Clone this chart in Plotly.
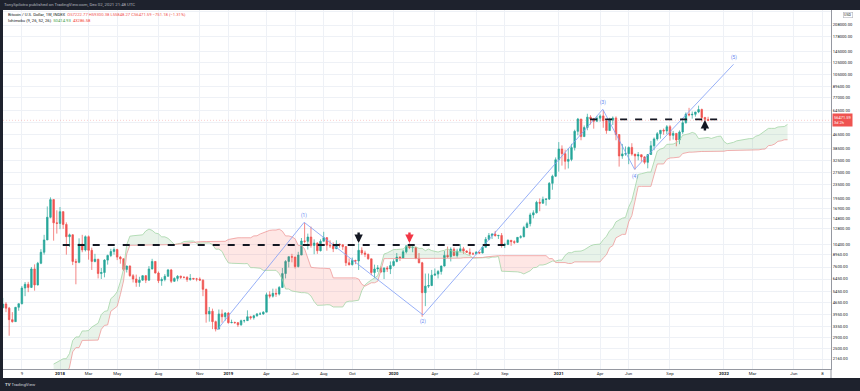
import numpy as np
import pandas as pd
import plotly.graph_objects as go

# ---------------- weekly OHLC (week start Mondays) ----------------
start_2016 = "2016-07-04"
open_2016 = [703,650,665,660,624,590,570,581,570,608,607,609,602,612,617,640,655,700,705,705,730,735,765,770,790,895]
high_2016 = [705,680,680,665,630,600,585,585,612,630,612,610,615,620,645,660,720,740,730,755,750,775,775,795,930,1000]
low_2016 = [605,645,645,620,480,565,565,565,565,600,600,590,600,608,615,625,650,685,700,700,725,730,755,765,785,880]
close_2016 = [650,665,660,624,590,570,581,570,608,607,609,602,612,617,640,655,700,705,705,730,735,765,770,790,895,998]

start_2017 = "2017-01-02"
open_2017 = [998,905,820,925,920,1015,1000,1050,1170,1270,1230,970,965,1090,1190,1180,1230,1350,1560,1780,2050,2200,
             2540,2950,2510,2560,2500,2510,1920,2750,2750,3230,4150,4100,4350,4580,4330,3700,3600,4380,4600,5700,
             6000,5750,7400,5950,8000,9300,11000,15000,19100,13900]
high_2017 = [1150,915,930,930,1040,1060,1060,1200,1280,1330,1250,1060,1100,1210,1215,1245,1350,1600,1800,2100,2760,2580,
             2980,2960,2770,2600,2650,2540,2900,2850,3300,4200,4480,4400,4980,4700,4400,4100,4400,4620,5860,6190,
             6200,7600,7880,8150,9700,11800,17400,19700,19200,16500]
low_2017 = [810,750,815,880,910,940,990,1040,1160,1100,950,890,960,1080,1165,1180,1225,1350,1550,1710,2050,2060,
            2490,2100,2450,2400,2470,1830,1900,2450,2660,3210,3950,3990,4320,4100,2970,3550,3600,4180,4560,5100,
            5390,5700,5500,5900,7900,9000,11000,14800,10900,12000]
close_2017 = [905,820,925,920,1015,1000,1050,1170,1270,1230,970,965,1090,1190,1180,1230,1350,1560,1780,2050,2200,2540,
              2950,2510,2560,2500,2510,1920,2750,2750,3230,4150,4100,4350,4580,4330,3700,3600,4380,4600,5700,6000,
              5750,7400,5950,8000,9300,11000,15000,19100,13900,13800]

start_2018 = "2018-01-01"
open_2018 = [13800,16200,13600,11500,11800,8200,8100,10400,9600,11500,9550,8200,8450,6950,7050,8350,8900,9400,9650,8700,
             8500,7350,7700,6750,6450,6150,6350,6750,6350,7400,8200,7000,6300,6400,6700,7300,6250,6500,6700,6600,
             6600,6400,6500,6450,6450,6350,5600,4000,4150,3600,3250,4000]
high_2018 = [17250,16300,14000,12000,11900,8500,11250,11800,11700,11700,9900,9100,8500,7500,8450,9000,9750,9950,9750,8850,
             8550,7750,7780,6900,6850,6650,6800,6800,7700,8500,8250,7150,6600,6900,7400,7400,6600,6800,6750,6680,
             6700,6900,6550,6550,6600,6420,5650,4400,4300,3650,4250,4250]
low_2018 = [12750,12800,9000,10000,7800,6000,8000,9300,9400,8400,7300,8100,6500,6450,6600,7850,8700,9000,8350,7950,
            7200,7050,6650,6150,5800,5800,6300,6100,6300,7350,6950,6100,5880,6250,6650,6100,6200,6250,6450,6500,
            6200,6300,6400,6250,6300,5100,3550,3600,3250,3150,3250,3550]
close_2018 = [16200,13600,11500,11800,8200,8100,10400,9600,11500,9550,8200,8450,6950,7050,8350,8900,9400,9650,8700,8500,
              7350,7700,6750,6450,6150,6350,6750,6350,7400,8200,7000,6300,6400,6700,7300,6250,6500,6700,6600,6600,
              6400,6500,6450,6450,6350,5600,4000,4150,3600,3250,4000,3850]

start_2019 = "2018-12-31"
open_2019 = [3850,4050,3550,3560,3550,3450,3650,3650,3850,3800,3900,4000,4000,4100,5200,5100,5300,5250,5750,6950,
             8200,8750,8700,7650,8950,10850,10800,11450,10200,10550,9500,10800,11350,10250,10150,9750,10400,10300,
             10050,8050,7850,8300,8250,9550,9200,9050,8500,7050,7400,7500,7100,7500]
high_2019 = [4100,4100,3700,3600,3580,3700,3700,4200,3900,3950,4050,4100,4150,5350,5450,5650,5650,5850,7500,8350,
             8800,9100,8750,9350,11300,13900,12000,13200,11100,10650,11100,12300,11450,10950,10650,10950,10450,10350,
             10050,8550,8650,8400,10500,9950,9500,9100,8500,7850,7800,7650,7550,7700]
low_2019 = [3650,3500,3520,3500,3350,3400,3550,3650,3700,3700,3850,3950,3950,4100,4950,5000,5050,5150,5700,6500,
            7550,8100,7450,7550,8950,10500,9650,9900,9050,9100,9400,10800,9500,9850,9320,9750,9900,9600,
            7700,7750,7750,7900,7300,8950,8700,8400,6800,6550,7100,7000,6450,7100]
close_2019 = [4050,3550,3560,3550,3450,3650,3650,3850,3800,3900,4000,4000,4100,5200,5100,5300,5250,5750,6950,8200,
              8750,8700,7650,8950,10850,10800,11450,10200,10550,9500,10800,11350,10250,10150,9750,10400,10300,10050,
              8050,7850,8300,8250,9550,9200,9050,8500,7050,7400,7500,7100,7500,7400]

start_2020 = "2019-12-30"
open_2020 = [7400,7750,8200,8700,8600,9350,10150,9900,9950,8550,8050,5350,5850,5900,6800,6900,7150,7700,8900,8750,
             9700,8900,9450,9750,9450,9300,9100,9100,9300,9200,9950,11100,11700,11900,11650,11700,10250,10350,
             10950,10750,10650,11400,11500,13050,13750,15500,15950,18400,18200,19150,19250,23850,26300]
high_2020 = [8200,8450,9200,8800,9600,10200,10500,10250,10000,9200,8150,6950,6950,7300,7450,7300,7750,9450,10050,9950,
             9950,9750,10400,10000,9550,9800,9300,9450,9350,10100,11450,12100,12100,12450,11800,12100,10600,11100,
             10950,10950,11450,11750,13350,14100,15950,16500,18800,19400,19900,19400,24300,26850,34000]
low_2020 = [6900,7650,8100,8250,8550,9150,9700,9300,8450,8000,3850,4450,5700,5850,6750,6500,6850,7650,8600,8200,
            8800,8650,9300,9100,9200,8900,8950,9050,9100,9150,9950,10950,11150,11550,11150,9900,9850,10250,
            10150,10400,10550,11200,11400,12950,13250,14800,15800,16300,18000,17600,19000,21850,26000]
close_2020 = [7750,8200,8700,8600,9350,10150,9900,9950,8550,8050,5350,5850,5900,6800,6900,7150,7700,8900,8750,9700,
              8900,9450,9750,9450,9300,9100,9100,9300,9200,9950,11100,11700,11900,11650,11700,10250,10350,10950,
              10750,10650,11400,11500,13050,13750,15500,15950,18400,18200,19150,19250,23850,26300,32950]

start_2021 = "2021-01-04"
open_2021 = [32950,38150,35800,32250,33100,38900,48600,57500,45200,51200,59000,57500,55800,58200,60000,56200,49100,
             56600,58300,46500,34700,35700,35800,39000,35600,34700,35300,34250,31800,35400,39850,43800,47050,49300,
             48850,51750,46000,47250,43200,48200,54650,61500,60850,61300,63300,65500,58700,57222.77]
high_2021 = [41950,40100,37850,38500,40950,49700,58350,57500,52650,61800,60600,58400,60000,61300,64900,57000,58500,
             59600,59600,46700,40900,39500,39500,41300,35700,36600,35400,34650,35500,42600,44700,48150,49400,50500,
             52950,52950,48850,47350,49250,56600,62950,67000,63700,63400,69000,66300,59250,59300.38]
low_2021 = [28000,30400,28850,29250,32300,37400,46000,43000,45000,49300,53300,50400,55500,55500,51000,47000,48800,
            53000,43000,30000,33400,34800,31000,34800,28800,32700,32100,31000,29300,35200,37500,42800,43950,46400,
            46750,42800,43400,39600,40750,46900,54000,59600,57800,59400,62300,55600,53300,55848.27]
close_2021 = [38150,35800,32250,33100,38900,48600,57500,45200,51200,59000,57500,55800,58200,60000,56200,49100,56600,
              58300,46500,34700,35700,35800,39000,35600,34700,35300,34250,31800,35400,39850,43800,47050,49300,48850,
              51750,46000,47250,43200,48200,54650,61500,60850,61300,63300,65500,58700,57250,56471.59]

# ---------------- annotations data ----------------
level_1_price = 10270
level_1_dates = ["2018-01-07", "2020-09-24"]
level_2_price = 57290
level_2_dates = ["2021-03-14", "2021-12-20"]

wave_dates = ["2018-12-13", "2019-06-23", "2020-03-11", "2021-04-11", "2021-06-20", "2022-01-24"]
wave_prices = [3211, 14005, 3943, 65690, 28910, 121500]
wave_labels = ["", "(1)", "(2)", "(3)", "(4)", "(5)"]
wave_label_pos = [0, 1, -1, 1, -1, 1]

arrow_dates = ["2019-10-21", "2020-02-10", "2021-11-22"]
arrow_prices = [10550, 10550, 56740]
arrow_dirs = ["down", "down", "up"]
arrow_colors = ["#131722", "#f23645", "#131722"]

ytick_vals = [2160, 2500, 2900, 3350, 3950, 4650, 5450, 6450, 7600, 8960, 10400, 12800, 14800, 16900, 19500,
              23500, 27500, 32500, 38500, 46500, 54500, 64500, 77000, 89600, 105000, 125000, 145000, 178000,
              208000, 249500]
ytick_hidden = [54500, 249500]

xtick_dates = ["2017-10-09", "2018-01-01", "2018-03-05", "2018-05-07", "2018-08-06", "2018-11-05", "2019-01-07",
               "2019-04-01", "2019-06-03", "2019-08-05", "2019-10-07", "2020-01-06", "2020-04-06", "2020-07-06",
               "2020-09-07", "2021-01-04", "2021-04-05", "2021-06-07", "2021-09-06", "2022-01-03", "2022-03-07",
               "2022-06-06", "2022-08-08"]
xtick_text = ["9", "<b>2018</b>", "Mar", "May", "Aug", "Nov", "<b>2019</b>", "Apr", "Jun", "Aug", "Oct",
              "<b>2020</b>", "Apr", "Jul", "Sep", "<b>2021</b>", "Apr", "Jun", "Sep", "<b>2022</b>", "Mar", "Jun", "8"]

last_price = 56471.59

# ---------------- assemble ----------------
blocks = [
    (start_2016, open_2016, high_2016, low_2016, close_2016),
    (start_2017, open_2017, high_2017, low_2017, close_2017),
    (start_2018, open_2018, high_2018, low_2018, close_2018),
    (start_2019, open_2019, high_2019, low_2019, close_2019),
    (start_2020, open_2020, high_2020, low_2020, close_2020),
    (start_2021, open_2021, high_2021, low_2021, close_2021),
]
all_d, all_o, all_h, all_l, all_c = [], [], [], [], []
prev_end = None
for st, o, h, l, c in blocks:
    assert len(o) == len(h) == len(l) == len(c), (st, len(o), len(h), len(l), len(c))
    d = pd.date_range(st, periods=len(c), freq="7D")
    if prev_end is not None:
        assert d[0] == prev_end + pd.Timedelta(days=7), (st, prev_end)
    prev_end = d[-1]
    all_d += list(d); all_o += o; all_h += h; all_l += l; all_c += c
dates = pd.DatetimeIndex(all_d)

H = pd.Series(all_h, dtype=float)
L = pd.Series(all_l, dtype=float)
tenkan = (H.rolling(9).max() + L.rolling(9).min()) / 2
kijun = (H.rolling(26).max() + L.rolling(26).min()) / 2
lead1 = (tenkan + kijun) / 2
lead2 = (H.rolling(52).max() + L.rolling(52).min()) / 2
cloud_dates = dates + pd.Timedelta(weeks=25)

valid = (lead1.notna() & lead2.notna()).values
cd = cloud_dates[valid]
a = np.log10(lead1.values[valid])
b = np.log10(lead2.values[valid])
t = cd.values.astype("datetime64[ns]").astype(np.int64).astype(float)

segments = []
cx, ca, cb = [t[0]], [a[0]], [b[0]]
sign = a[0] >= b[0]
for i in range(1, len(t)):
    s = a[i] >= b[i]
    if s != sign:
        d0 = a[i - 1] - b[i - 1]
        d1 = a[i] - b[i]
        f = d0 / (d0 - d1)
        tx = t[i - 1] + f * (t[i] - t[i - 1])
        ya = a[i - 1] + f * (a[i] - a[i - 1])
        cx.append(tx); ca.append(ya); cb.append(ya)
        segments.append((sign, cx, ca, cb))
        cx, ca, cb = [tx], [ya], [ya]
        sign = s
    cx.append(t[i]); ca.append(a[i]); cb.append(b[i])
segments.append((sign, cx, ca, cb))

fig = go.Figure()
for sg, xs, ys_a, ys_b in segments:
    px = pd.to_datetime(np.array(xs + xs[::-1]).astype(np.int64))
    py = 10 ** np.array(ys_a + ys_b[::-1])
    fig.add_trace(go.Scatter(x=px, y=py, mode="lines", line=dict(width=0),
                             fill="toself",
                             fillcolor="rgba(67,160,71,0.12)" if sg else "rgba(244,67,54,0.13)",
                             hoverinfo="skip"))
fig.add_trace(go.Scatter(x=cd, y=10 ** a, mode="lines", line=dict(color="#A5D6A7", width=0.8), hoverinfo="skip"))
fig.add_trace(go.Scatter(x=cd, y=10 ** b, mode="lines", line=dict(color="#EF9A9A", width=0.8), hoverinfo="skip"))

fig.add_trace(go.Candlestick(
    x=dates, open=all_o, high=all_h, low=all_l, close=all_c,
    increasing=dict(line=dict(color="#26a69a", width=0.7), fillcolor="#26a69a"),
    decreasing=dict(line=dict(color="#ef5350", width=0.7), fillcolor="#ef5350"),
    whiskerwidth=0))

# Elliott wave lines
fig.add_trace(go.Scatter(x=pd.to_datetime(wave_dates), y=wave_prices, mode="lines",
                         line=dict(color="#7e9cf5", width=0.8), hoverinfo="skip"))

shapes = []
for lvl, ds in [(level_1_price, level_1_dates), (level_2_price, level_2_dates)]:
    shapes.append(dict(type="line", xref="x", yref="y", x0=ds[0], x1=ds[1], y0=lvl, y1=lvl,
                       line=dict(color="#131722", width=1.8, dash="7px,8px")))
# last price line
shapes.append(dict(type="line", xref="paper", yref="y", x0=0, x1=1, y0=last_price, y1=last_price,
                   line=dict(color="rgba(239,83,80,0.35)", width=0.8, dash="1px,2px")))

W, Hh = 828.0, 359.0
dark = "#1e222d"
shapes += [
    dict(type="rect", xref="paper", yref="paper", x0=-3 / W, x1=1 + 29 / W, y0=1, y1=1 + 10 / Hh,
         fillcolor=dark, line=dict(width=0), layer="above"),
    dict(type="rect", xref="paper", yref="paper", x0=-3 / W, x1=1 + 29 / W, y0=-22 / Hh, y1=-9 / Hh,
         fillcolor=dark, line=dict(width=0), layer="above"),
    dict(type="rect", xref="paper", yref="paper", x0=-3 / W, x1=0, y0=-22 / Hh, y1=1 + 10 / Hh,
         fillcolor=dark, line=dict(width=0), layer="above"),
    dict(type="line", xref="paper", yref="paper", x0=1, x1=1, y0=-9 / Hh, y1=0,
         line=dict(color="#9598a1", width=1)),
]

ann = []
# header
ann.append(dict(xref="paper", yref="paper", x=-1 / W, y=1 + 5.5 / Hh, xanchor="left", yanchor="middle",
                text="TonySpilotro published on TradingView.com, Dec 02, 2021 21:48 UTC",
                showarrow=False, font=dict(size=4.3, color="#b2b5be")))
ann.append(dict(xref="paper", yref="paper", x=3 / W, y=1 - 4.5 / Hh, xanchor="left", yanchor="middle",
                text="Bitcoin / U.S. Dollar, 1W, INDEX  <span style='color:#ef5350'>O57222.77 H59300.38 L55848.27 "
                     "C56471.59 \u2212751.18 (\u22121.31%)</span>",
                showarrow=False, font=dict(size=4.2, color="#131722")))
ann.append(dict(xref="paper", yref="paper", x=3 / W, y=1 - 10.5 / Hh, xanchor="left", yanchor="middle",
                text="Ichimoku (9, 26, 52, 26)  <span style='color:#43a047'>50414.93</span>  "
                     "<span style='color:#f44336'>43286.58</span>",
                showarrow=False, font=dict(size=4.2, color="#131722")))
# footer
ann.append(dict(xref="paper", yref="paper", x=0 / W, y=-15.5 / Hh, xanchor="left", yanchor="middle",
                text="<b>TV</b> TradingView", showarrow=False, font=dict(size=4.3, color="#d1d4dc")))
# price label
ann.append(dict(xref="paper", yref="y", x=1 + 1 / W, y=np.log10(last_price), xanchor="left", yanchor="middle",
                text="56471.59<br>3d 2h", showarrow=False, align="left", bgcolor="#ef5350",
                borderpad=1, font=dict(size=4, color="white")))
# currency tag
ann.append(dict(xref="paper", yref="paper", x=1 + 12 / W, y=1 - 4.5 / Hh, xanchor="left", yanchor="middle",
                text="USD", showarrow=False, bgcolor="white", bordercolor="#b2b5be", borderwidth=0.6,
                borderpad=0.5, font=dict(size=3.6, color="#131722")))
# wave labels
for d, p, lab, pos in zip(wave_dates, wave_prices, wave_labels, wave_label_pos):
    if lab:
        ann.append(dict(x=d, y=np.log10(p), text=lab, showarrow=False, yshift=7 * pos,
                        font=dict(size=4.6, color="#5b7ff0")))
# arrows
for d, p, dr, col in zip(arrow_dates, arrow_prices, arrow_dirs, arrow_colors):
    ann.append(dict(x=d, y=np.log10(p), text="", showarrow=True, ax=0, ay=(-12 if dr == "down" else 12),
                    arrowhead=2, arrowsize=0.7, arrowwidth=2.4, arrowcolor=col))

ytext = ["" if v in ytick_hidden else f"{v:.2f}" for v in ytick_vals]

fig.update_layout(
    width=860, height=391, margin=dict(l=3, r=29, t=10, b=22),
    paper_bgcolor="white", plot_bgcolor="white", showlegend=False,
    font=dict(family="Roboto", color="#131722"),
    shapes=shapes, annotations=ann,
    xaxis=dict(type="date", range=["2017-08-28 10:00", "2022-08-26 19:00"], rangeslider=dict(visible=False),
               tickvals=xtick_dates, ticktext=xtick_text, tickfont=dict(size=4.3, color="#131722"),
               showgrid=True, gridcolor="#eef1f6", gridwidth=1, showline=True, linecolor="#9598a1",
               linewidth=1, ticks="", zeroline=False, fixedrange=True),
    yaxis=dict(type="log", range=[3.27506, 5.40714], side="right", tickvals=ytick_vals, ticktext=ytext,
               tickfont=dict(size=4.1, color="#131722"), showgrid=True, gridcolor="#eef1f6", gridwidth=1,
               showline=True, linecolor="#9598a1", linewidth=1, ticks="", zeroline=False, fixedrange=True),
)

fig.write_html("out.html", config={"displayModeBar": False, "staticPlot": True},
               post_script="document.body.style.margin='0';document.body.style.padding='0';"
                           "document.documentElement.style.overflow='hidden';")
